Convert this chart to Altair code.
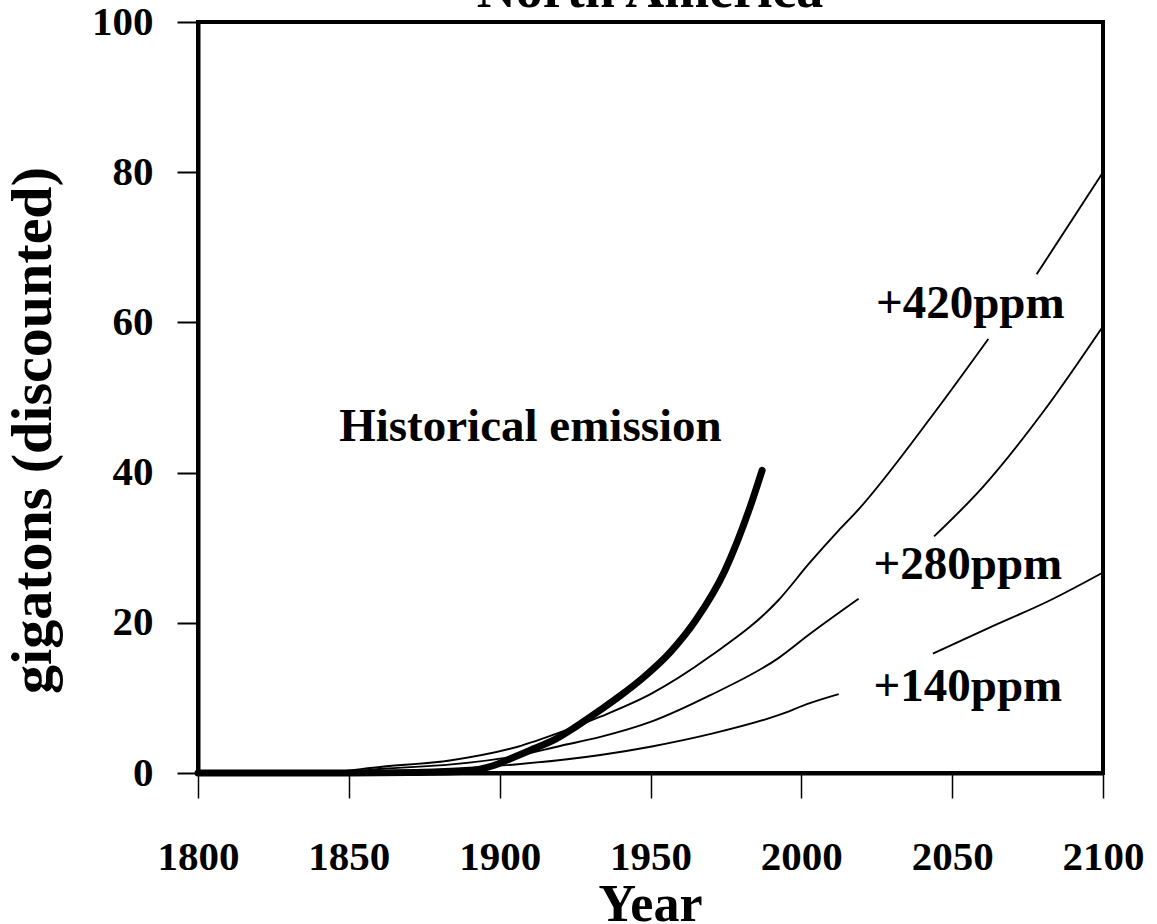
import altair as alt
import pandas as pd

# ---- data ----
hist_year = [1800, 1850, 1870, 1885, 1892.7, 1898, 1903.5, 1910, 1918.5, 1925, 1933.4, 1940, 1947.3, 1956.8, 1965.1, 1974.6, 1982.9, 1987]
hist_val = [0, 0, 0.05, 0.15, 0.45, 1.0, 1.9, 3.0, 4.5, 6.1, 8.4, 10.3, 12.6, 16.2, 20.4, 26.9, 35.3, 40.3]

p420_lo_year = [1800, 1840, 1861, 1884, 1906, 1920, 1933.4, 1950, 1970, 1992.4, 2002.8, 2012.4, 2018.3, 2043.6, 2062]
p420_lo_val = [0, 0.05, 0.84, 1.7, 3.5, 5.4, 7.5, 10.5, 15.6, 23.0, 28.0, 32.3, 34.8, 47.7, 57.8]
p420_hi_year = [2078, 2100]
p420_hi_val = [66.4, 80]

p280_lo_year = [1800, 1845, 1861, 1884, 1906, 1920, 1933.4, 1950, 1970, 1992.4, 2002.8, 2019]
p280_lo_val = [0, 0.03, 0.56, 1.15, 2.3, 3.6, 4.8, 6.8, 10.4, 15.3, 18.5, 23.2]
p280_hi_year = [2044, 2060, 2080, 2100]
p280_hi_val = [31.5, 38.0, 48.0, 59.5]

p140_lo_year = [1800, 1845, 1861, 1884, 1906, 1933.4, 1950, 1970, 1992.4, 2002.8, 2012.4]
p140_lo_val = [0, 0.02, 0.28, 0.57, 1.17, 2.4, 3.5, 5.2, 7.7, 9.3, 10.5]
p140_hi_year = [2043.6, 2062, 2082.5, 2100]
p140_hi_val = [15.9, 19.3, 23.0, 26.7]

x_ticks = [1800, 1850, 1900, 1950, 2000, 2050, 2100]
y_ticks = [0, 20, 40, 60, 80, 100]

ann_text = ["+420ppm", "+280ppm", "+140ppm", "Historical emission"]
ann_year = [2056, 2055.2, 2055.2, 1910.2]
ann_val = [62.5, 27.7, 11.5, 46.1]

FONT = "Liberation Serif"

rows = []
def add(name, seg, ys, vs):
    for y, v in zip(ys, vs):
        rows.append({"series": name, "seg": name + seg, "year": y, "value": v})

add("420", "lo", p420_lo_year, p420_lo_val)
add("420", "hi", p420_hi_year, p420_hi_val)
add("280", "lo", p280_lo_year, p280_lo_val)
add("280", "hi", p280_hi_year, p280_hi_val)
add("140", "lo", p140_lo_year, p140_lo_val)
add("140", "hi", p140_hi_year, p140_hi_val)
scen = pd.DataFrame(rows)
hist = pd.DataFrame({"year": hist_year, "value": hist_val})
ann = pd.DataFrame({"text": ann_text, "year": ann_year, "value": ann_val})

xscale = alt.Scale(domain=[1800, 2100], nice=False, zero=False)
yscale = alt.Scale(domain=[0, 100], nice=False)

xaxis = alt.Axis(values=x_ticks, format="d", grid=False, tickSize=25, tickWidth=1.5,
                 tickColor="black", domainColor="black", domainWidth=4,
                 labelFont=FONT, labelFontWeight="bold", labelFontSize=41, labelColor="black",
                 labelPadding=39, labelFlush=False, labelOverlap=False,
                 title="Year", titleFont=FONT, titleFontWeight="bold", titleFontSize=52,
                 titleColor="black", titleX=452, titleY=147, titleBaseline="alphabetic",
                 titleAlign="center")
yaxis = alt.Axis(values=y_ticks, grid=False, tickSize=21, tickWidth=2,
                 tickColor="black", domainColor="black", domainWidth=4,
                 labelFont=FONT, labelFontWeight="bold", labelFontSize=41, labelColor="black",
                 labelPadding=24, labelFlush=False, labelOverlap=False,
                 title="gigatons (discounted)", titleFont=FONT, titleFontWeight="bold",
                 titleFontSize=58, titleColor="black", titleAngle=270, titleX=-148,
                 titleY=408, titleAlign="center", titleBaseline="alphabetic")

base_x = alt.X("year:Q", scale=xscale, axis=xaxis)
base_y = alt.Y("value:Q", scale=yscale, axis=yaxis)

scen_lines = alt.Chart(scen).mark_line(color="black", strokeWidth=1.9, interpolate="monotone").encode(
    x=base_x, y=base_y, detail="seg:N")
hist_line = alt.Chart(hist).mark_line(color="black", strokeWidth=7, interpolate="monotone",
                                      strokeCap="round").encode(
    x=alt.X("year:Q", scale=xscale), y=alt.Y("value:Q", scale=yscale))
labels = alt.Chart(ann).mark_text(font=FONT, fontWeight="bold", fontSize=47, color="black",
                                  align="center", baseline="middle").encode(
    x=alt.X("year:Q", scale=xscale), y=alt.Y("value:Q", scale=yscale), text="text:N")
title = alt.Chart(pd.DataFrame({"t": ["North America"]})).mark_text(
    font=FONT, fontWeight="bold", fontSize=54, color="black", align="center",
    baseline="alphabetic").encode(x=alt.value(452), y=alt.value(-15), text="t:N")

chart = alt.layer(scen_lines, hist_line, labels, title).properties(
    width=905, height=751,
    padding={"left": 198, "top": 22, "right": 54, "bottom": 151},
    autosize=alt.AutoSizeParams(type="none"),
    background="white",
).configure_view(stroke="black", strokeWidth=4)

chart.save("out.html", embed_options={"renderer": "svg", "actions": False})
